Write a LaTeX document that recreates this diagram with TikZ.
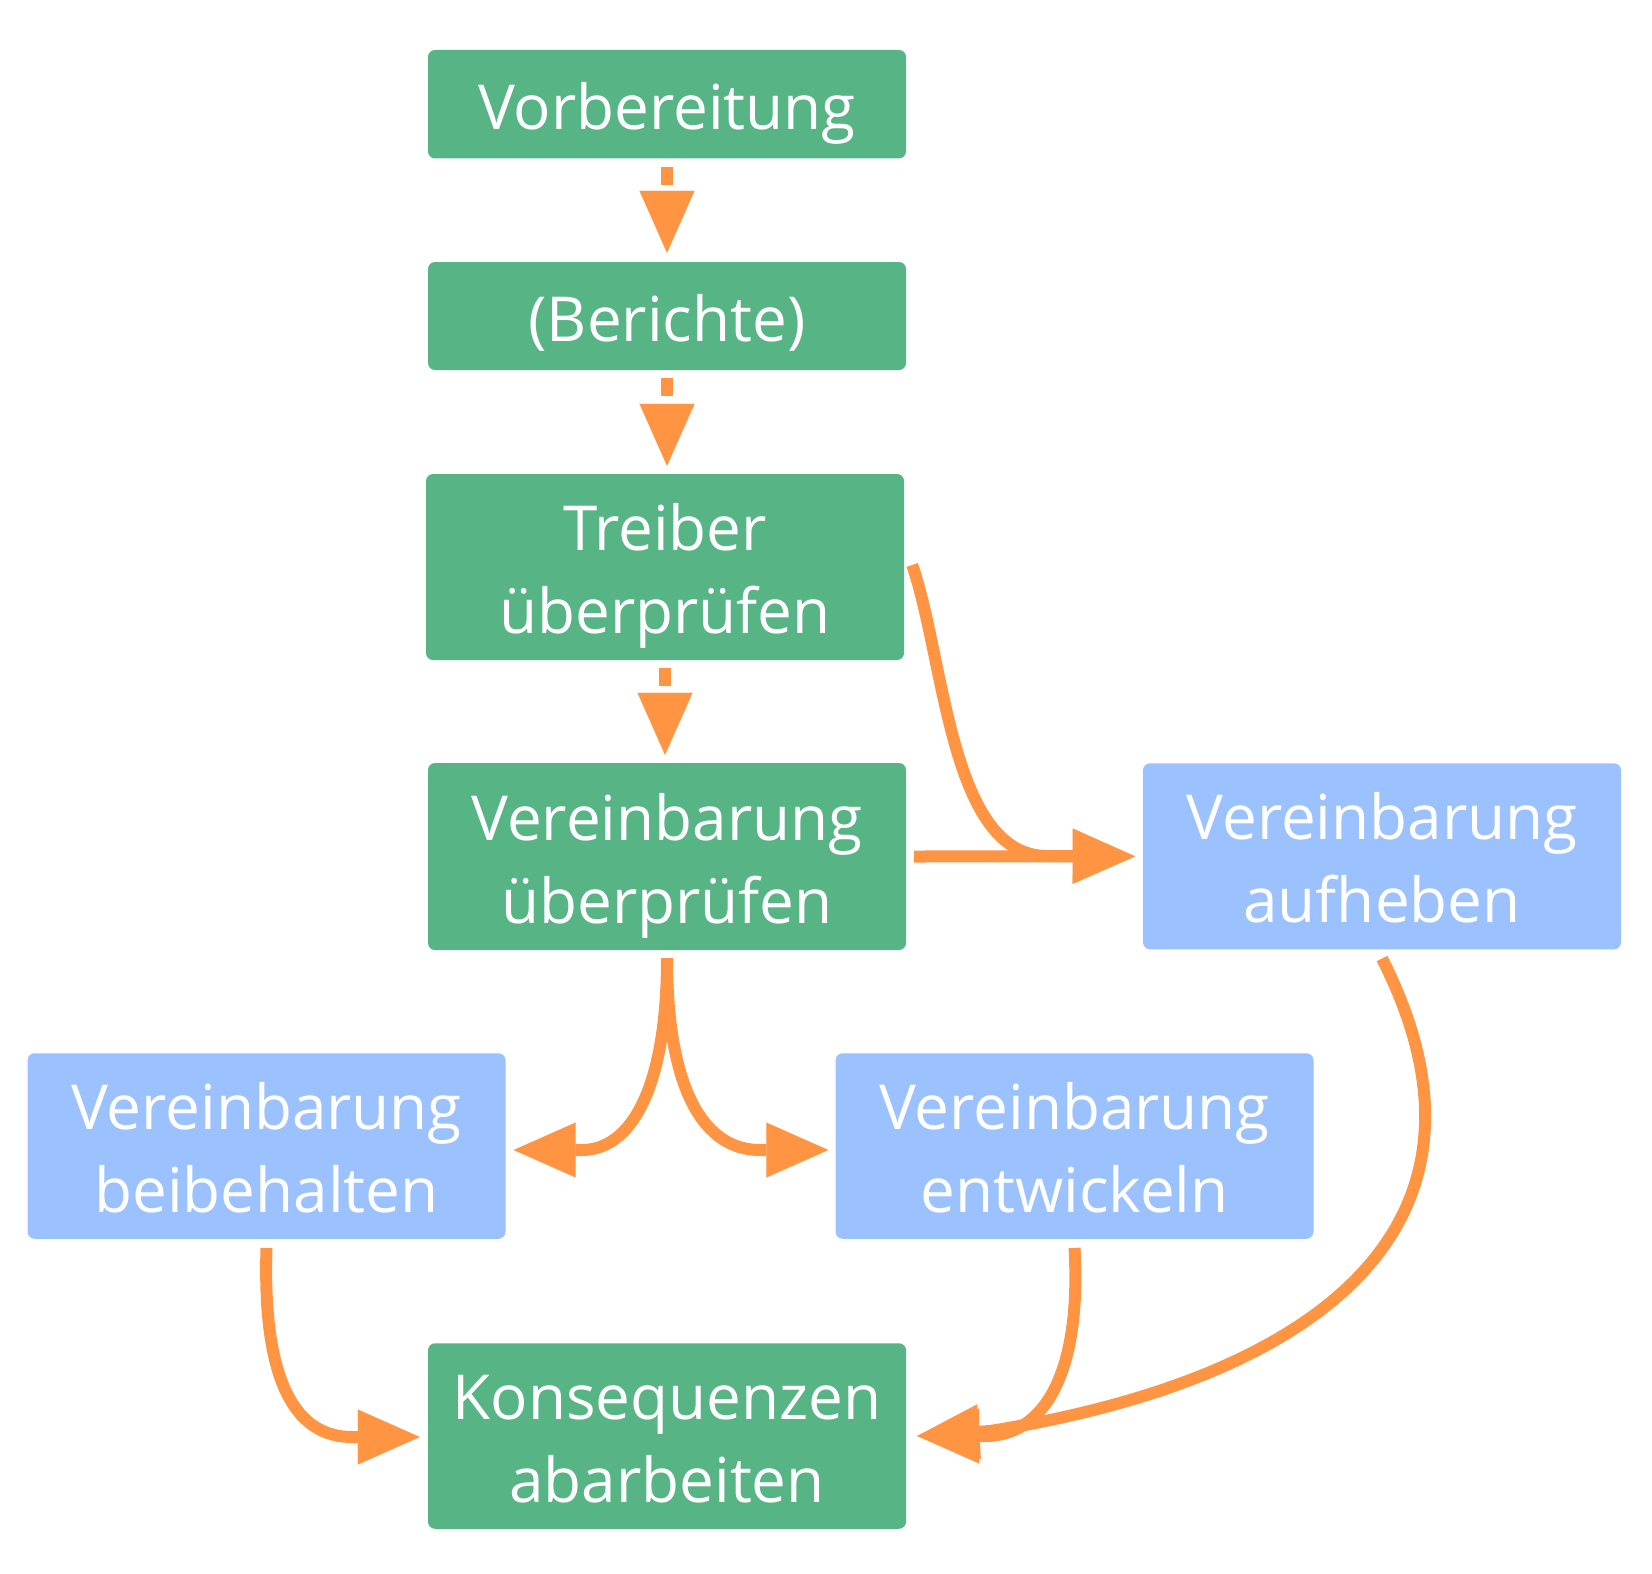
\documentclass[tikz,border=0pt]{standalone}
\usepackage{fontspec}
\setmainfont{Open Sans}
\usetikzlibrary{arrows.meta,calc}
\definecolor{mygreen}{RGB}{87,180,133}
\definecolor{myblue}{RGB}{155,193,255}
\definecolor{myorange}{RGB}{255,149,66}
\newcommand{\topstr}{\rule{0pt}{70pt}}
\newcommand{\botstr}{\rule[-20pt]{0pt}{20pt}}
\begin{document}
\begin{tikzpicture}[x=1pt,y=-1pt,
  box/.style={rectangle, rounded corners=7pt, minimum width=478pt, inner sep=0pt,
    text=white, align=center, font=\fontsize{62}{83}\selectfont},
  gbox/.style={box, fill=mygreen},
  bbox/.style={box, fill=myblue},
  conn/.style={draw=myorange, line width=12pt,
    -{Triangle[length=62pt,width=55pt,line width=0.1pt]}},
  dconn/.style={conn, dash pattern=on 18pt off 60pt}]
\useasboundingbox (0,0) rectangle (1652,1574);

\node[gbox, minimum height=108.5pt] (vorb) at (667,104.2) {\topstr Vorbereitung\botstr};
\node[gbox, minimum height=108pt] (ber) at (667,316) {\topstr (Berichte)\botstr};
\node[gbox, minimum height=186pt] (tre) at (665,567) {\topstr Treiber\\überprüfen\botstr};
\node[gbox, minimum height=187pt] (ver) at (667,856.5) {\topstr Vereinbarung\\überprüfen\botstr};
\node[bbox, minimum height=186pt] (auf) at (1382,856.3) {\topstr Vereinbarung\\aufheben\botstr};
\node[bbox, minimum height=185.5pt] (bei) at (266.5,1146) {\topstr Vereinbarung\\beibehalten\botstr};
\node[bbox, minimum height=185.5pt] (ent) at (1074.5,1146) {\topstr Vereinbarung\\entwickeln\botstr};
\node[gbox, minimum height=185.5pt] (kon) at (667,1436) {\topstr Konsequenzen\\abarbeiten\botstr};

% dashed vertical arrows
\draw[dconn] ([yshift=-8pt]vorb.south) -- ([yshift=9pt]ber.north);
\draw[dconn] ([yshift=-8pt]ber.south) -- ([yshift=8pt]ber.south |- tre.north);
\draw[dconn] ([yshift=-8pt]tre.south) -- ([yshift=8pt]tre.south |- ver.north);

% to aufheben
\draw[conn] ([xshift=8pt]ver.east) -- ([xshift=-8pt]auf.west);
\draw[conn] ([xshift=8pt,yshift=2pt]tre.east) .. controls (945,660) and (950,856) .. (1047,856) -- ([xshift=-8pt]auf.west);

% split from Vereinbarung ueberpruefen
\draw[conn] ([yshift=-8pt]ver.south) .. controls (667,1090) and (630,1150) .. (582,1150) -- ([xshift=8pt,yshift=-4pt]bei.east);
\draw[conn] ([yshift=-8pt]ver.south) .. controls (667,1090) and (704,1150) .. (760,1150) -- ([xshift=-7pt,yshift=-4pt]ent.west);

% to Konsequenzen
\draw[conn] ([yshift=-9pt]bei.south) .. controls (262,1390) and (300,1437) .. (352,1437) -- ([xshift=-8pt,yshift=-1pt]kon.west);
\draw[conn] ([yshift=-9pt]ent.south) .. controls (1082,1380) and (1040,1436) .. (985,1436) -- ([xshift=11pt]kon.east);
\draw[conn] ([yshift=-9pt]auf.south) .. controls (1520,1230) and (1310,1380) .. (990,1431) -- ([xshift=11pt]kon.east);
\end{tikzpicture}
\end{document}
